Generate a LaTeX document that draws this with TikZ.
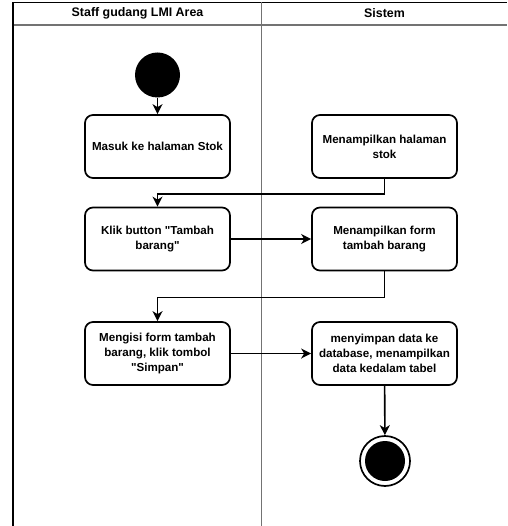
\documentclass[tikz,border=0pt]{standalone}
\usepackage{fontspec}
\setmainfont{Liberation Sans}
\usetikzlibrary{arrows.meta}
\newcommand{\dq}{\textquotedbl}
\begin{document}
\begin{tikzpicture}[x=1pt,y=-1pt,
  act/.style={draw, line width=1.7pt, rounded corners=8pt, fill=white,
    minimum width=145pt, minimum height=63pt, align=center, inner sep=2pt,
    font=\bfseries\fontsize{11.6}{15}\selectfont},
  lanehead/.style={font=\bfseries\fontsize{12.4}{15}\selectfont},
  initial/.style={circle, fill=black, minimum size=45pt, inner sep=0pt},
  finalring/.style={circle, draw, line width=1.7pt, fill=white, minimum size=50pt, inner sep=0pt},
  finaldot/.style={circle, fill=black, minimum size=40pt, inner sep=0pt},
  flow/.style={line width=1.6pt, -{Stealth[length=10pt,width=10pt,inset=3pt]}},
  border/.style={line width=1.6pt, black},
  divider/.style={line width=1.8pt, black!55},
]
\useasboundingbox (0,0) rectangle (507,526);

% swimlane frame
\draw[border] (13,2.5) -- (507,2.5);
\draw[divider] (13,25) -- (507,25);
\draw[border] (13,2.5) -- (13,526);
\draw[divider] (261.5,2.5) -- (261.5,526);
\node[lanehead] (hstaff) at (137.5,13.5) {Staff gudang LMI Area};
\node[lanehead] (hsys) at (384.5,13.5) {Sistem};

% actions of the warehouse staff
\node[initial] (start) at (157.5,75) {};
\node[act] (a1) at (157.5,146.5) {Masuk ke halaman Stok};
\node[act] (a2) at (157.5,239) {Klik button \dq Tambah\\barang\dq};
\node[act] (a3) at (157.5,353.5) {Mengisi form tambah\\barang, klik tombol\\\dq Simpan\dq};

% actions of the system
\node[act] (b1) at (384.5,146.5) {Menampilkan halaman\\stok};
\node[act] (b2) at (384.5,239) {Menampilkan form\\tambah barang};
\node[act] (b3) at (384.5,353.5) {menyimpan data ke\\database, menampilkan\\data kedalam tabel};
\node[finalring] (stop) at (385,461) {};
\node[finaldot] (stopdot) at (stop) {};

% control flow
\draw[flow] (start) -- (a1);
\draw[flow] (b1.south) -- ++(0,15) -| (a2.north);
\draw[flow] (a2) -- (b2);
\draw[flow] (b2.south) -- ++(0,26) -| (a3.north);
\draw[flow] (a3) -- (b3);
\draw[flow] (b3) -- (stop);
\end{tikzpicture}
\end{document}
